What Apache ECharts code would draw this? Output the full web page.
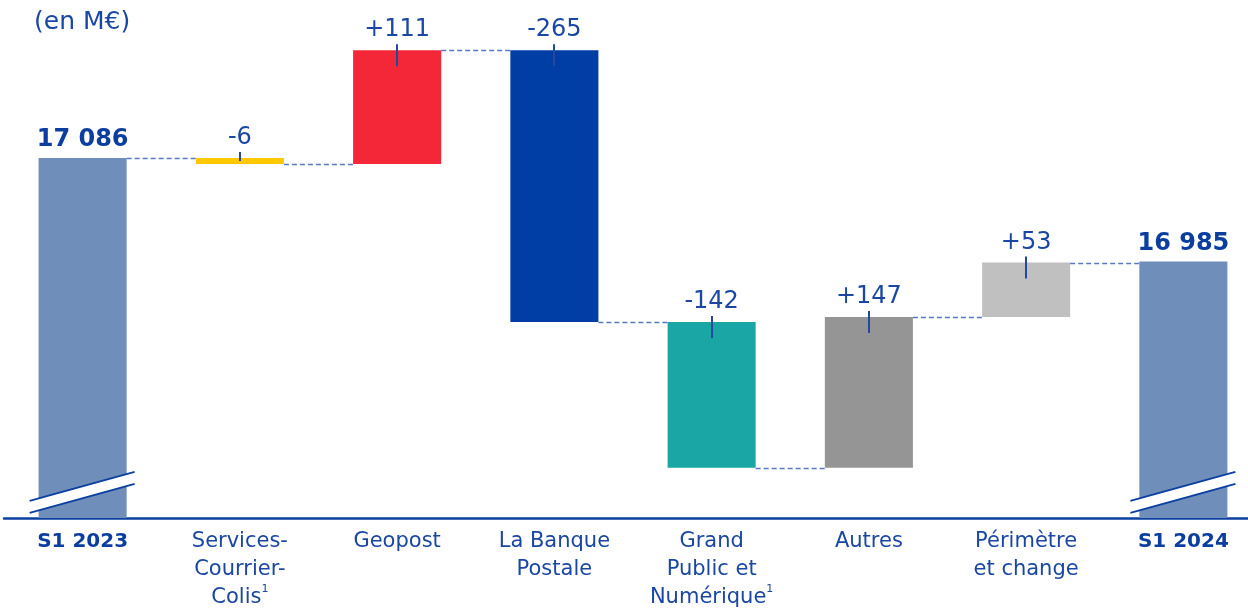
<!DOCTYPE html>
<html>
<head>
<meta charset="utf-8">
<script src="https://cdn.jsdelivr.net/npm/echarts@6/dist/echarts.min.js"></script>
<style>
html, body { margin: 0; padding: 0; background: #fff; }
#chart { width: 1248px; height: 610px; }
</style>
</head>
<body>
<div id="chart"></div>
<script>
const categories = ['S1 2023', 'Services-\nCourrier-\nColis', 'Geopost', 'La Banque\nPostale', 'Grand\nPublic et\nNumérique', 'Autres', 'Périmètre\net change', 'S1 2024'];
const footnotes = [false, true, false, false, true, false, false, false];
const startValue = 17086;
const endValue = 16985;
const deltas = [-6, 111, -265, -142, 147, 53];
const barColors = ['#6F8EBA', '#FFC800', '#F32737', '#003DA5', '#1BA6A6', '#959595', '#C0C0C0', '#6F8EBA'];
const breakLevel = 16760; // where the axis break is drawn on the two total bars

const FONT = 'DejaVu Sans';
const BLUE = '#0B3E9E';
const BAR_RATIO = 0.56;

// running totals -> stacked waterfall (transparent base + visible part)
let levels = [startValue];
let baseData = [0];
let barData = [startValue];
let cur = startValue;
deltas.forEach(d => {
  const next = cur + d;
  baseData.push(Math.min(cur, next));
  barData.push(Math.abs(d));
  levels.push(next);
  cur = next;
});
baseData.push(0);
barData.push(endValue);

const connectorData = levels.map((lv, i) => [i, lv]);
const tickData = deltas.map((d, j) => [j + 1, Math.max(levels[j], levels[j + 1]), Math.abs(d)]);
const breakData = [[0, breakLevel], [categories.length - 1, breakLevel]];

function fmtTotal(v) {
  return String(v).replace(/\B(?=(\d{3})+(?!\d))/g, ' ');
}

const chart = echarts.init(document.getElementById('chart'));

chart.setOption({
  animation: false,
  textStyle: { fontFamily: FONT },
  title: {
    text: '(en M€)',
    left: 29,
    top: 5,
    textStyle: { fontFamily: FONT, fontSize: 25, fontWeight: 'normal', color: '#1A47A3' }
  },
  grid: { left: 4, right: -14, top: 0, bottom: 92, containLabel: false, outerBoundsMode: 'none' },
  xAxis: {
    type: 'category',
    data: categories,
    axisLine: { lineStyle: { color: '#0B3FA0', width: 2.5 } },
    axisTick: { show: false },
    axisLabel: {
      interval: 0,
      margin: 10,
      fontSize: 21,
      lineHeight: 28,
      color: '#1A47A3',
      formatter: (value, idx) => {
        if (idx === 0 || idx === categories.length - 1) return '{b|' + value + '}';
        return footnotes[idx] ? value + '{sup|1}' : value;
      },
      rich: {
        b: { fontFamily: FONT, fontWeight: 'bold', fontSize: 20, color: BLUE },
        sup: { fontFamily: FONT, fontSize: 11, color: '#1A47A3', verticalAlign: 'top', lineHeight: 28 }
      }
    }
  },
  yAxis: {
    type: 'value',
    min: 16735,
    max: 17240,
    show: false,
    splitLine: { show: false }
  },
  series: [
    {
      name: 'base',
      type: 'bar',
      stack: 'w',
      barWidth: BAR_RATIO * 100 + '%',
      itemStyle: { color: 'transparent' },
      silent: true,
      data: baseData
    },
    {
      name: 'value',
      type: 'bar',
      stack: 'w',
      barWidth: BAR_RATIO * 100 + '%',
      data: barData.map((v, i) => ({ value: v, itemStyle: { color: barColors[i] } })),
      label: {
        show: true,
        position: 'top',
        distance: 4,
        formatter: p => {
          const i = p.dataIndex;
          if (i === 0 || i === categories.length - 1) return '{t|' + fmtTotal(p.value) + '}';
          const d = deltas[i - 1];
          return '{d|' + (d > 0 ? '+' : '') + d + '}';
        },
        rich: {
          t: { fontFamily: FONT, fontWeight: 'bold', fontSize: 24, color: BLUE, padding: [0, 0, 2, 0] },
          d: { fontFamily: FONT, fontSize: 24, color: '#1A47A3', padding: [0, 0, 4, 0] }
        }
      }
    },
    {
      name: 'connectors',
      type: 'custom',
      z: 3,
      silent: true,
      data: connectorData,
      renderItem: (params, api) => {
        const p = api.coord([api.value(0), api.value(1)]);
        const band = api.size([1, 0])[0];
        const half = band * BAR_RATIO / 2;
        const y = Math.round(p[1]) + 0.5;
        return {
          type: 'line',
          shape: { x1: p[0] + half, y1: y, x2: p[0] + band - half, y2: y },
          style: { stroke: '#5579C6', lineWidth: 1.5, lineDash: [5, 3] }
        };
      }
    },
    {
      name: 'ticks',
      type: 'custom',
      z: 4,
      silent: true,
      data: tickData,
      renderItem: (params, api) => {
        const p = api.coord([api.value(0), api.value(1)]);
        const h = api.size([0, api.value(2)])[1];
        const x = Math.round(p[0]);
        return {
          type: 'line',
          shape: { x1: x, y1: p[1] - 6, x2: x, y2: p[1] + Math.min(16, h / 2) },
          style: { stroke: '#2447A0', lineWidth: 2 }
        };
      }
    },
    {
      name: 'breaks',
      type: 'custom',
      z: 5,
      silent: true,
      data: breakData,
      renderItem: (params, api) => {
        const p = api.coord([api.value(0), api.value(1)]);
        const cx = p[0], cy = p[1];
        const l = cx - 53, r = cx + 52;
        return {
          type: 'group',
          children: [
            {
              type: 'polygon',
              shape: { points: [[l, cy + 8.5], [r, cy - 20.5], [r, cy - 8.5], [l, cy + 20.5]] },
              style: { fill: '#fff' }
            },
            {
              type: 'line',
              shape: { x1: l, y1: cy + 8.5, x2: r, y2: cy - 20.5 },
              style: { stroke: '#0B3FA0', lineWidth: 2 }
            },
            {
              type: 'line',
              shape: { x1: l, y1: cy + 20.5, x2: r, y2: cy - 8.5 },
              style: { stroke: '#0B3FA0', lineWidth: 2 }
            }
          ]
        };
      }
    }
  ]
});
</script>
</body>
</html>
